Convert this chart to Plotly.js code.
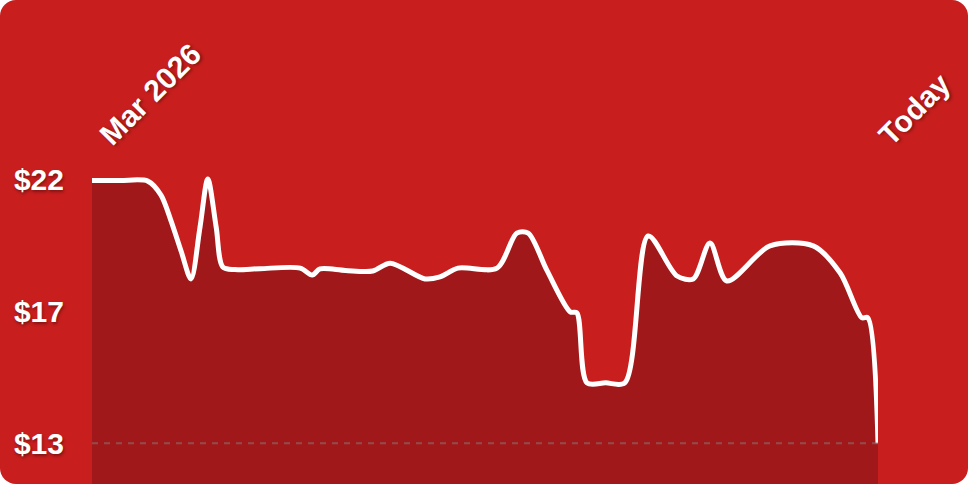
<!DOCTYPE html>
<html>
<head>
<meta charset="utf-8">
<script src="https://cdn.plot.ly/plotly-3.0.1.min.js"></script>
<style>
  html, body { margin: 0; padding: 0; background: #ffffff; }
  #card { width: 968px; height: 484px; border-radius: 16px; overflow: hidden; background: #C81E1E; position: relative; }
  #chart { width: 968px; height: 484px; }
</style>
</head>
<body>
<div id="card"><div id="chart"></div></div>
<script>
// Days since start of period (Mar 2026 -> Today)
const days = [0, 4.7, 9.3, 11.5, 13.2, 14.9, 16.5, 18, 19.3, 20.7, 21.8, 23.8, 28, 34.7, 36.7, 38, 42.2, 46.8, 49.7, 55.5, 58, 61, 67.5, 70.8, 72.7, 75.8, 79.7, 80.8, 82.5, 85.6, 88.8, 92.7, 97.5, 100.2, 103, 105.8, 113, 120.2, 124.7, 128.3, 129.3, 131];
const price = [22.0, 22.0, 21.98, 21.5, 20.6, 19.55, 18.63, 20.4, 22.05, 20.4, 19.04, 18.95, 18.98, 19.0, 18.76, 18.97, 18.92, 18.9, 19.17, 18.63, 18.7, 19.0, 19.0, 20.2, 20.2, 18.93, 17.5, 17.47, 15.07, 15.07, 15.07, 20.1, 18.73, 18.63, 19.86, 18.56, 19.76, 19.76, 18.83, 17.3, 17.3, 13.0];
const xLabels = ["Mar 2026", "Today"];

const pMin = Math.min(...price), pMax = Math.max(...price);
const pMid = (pMin + pMax) / 2;
const yTickVals = [pMin, pMid, pMax];
const yTickText = yTickVals.map(v => "$" + Math.floor(v + 0.05));

const font = { family: "Liberation Sans, Arial, sans-serif", size: 30, color: "#ffffff", weight: 700, shadow: "1px 2px 3px rgba(0,0,0,0.35)" };

const trace = {
  x: days, y: price, type: "scatter", mode: "lines",
  line: { color: "#ffffff", width: 5, shape: "spline", smoothing: 0.85 },
  fill: "tozeroy", fillcolor: "#A0181A", hoverinfo: "skip"
};

const layout = {
  width: 968, height: 484,
  margin: { l: 92, r: 90, t: 150, b: 0 },
  paper_bgcolor: "rgba(0,0,0,0)", plot_bgcolor: "rgba(0,0,0,0)",
  showlegend: false,
  xaxis: { range: [days[0], days[days.length - 1]], showgrid: false, zeroline: false, showticklabels: false, ticks: "", showline: false, fixedrange: true },
  yaxis: { range: [11.606, 23.045], showgrid: false, zeroline: false, showline: false,
    tickvals: yTickVals, ticktext: yTickText, ticks: "", ticklabelstandoff: 27, tickfont: font, fixedrange: true },
  shapes: [{ type: "line", xref: "x", yref: "y", x0: days[0], x1: days[days.length - 1], y0: pMin, y1: pMin,
    line: { color: "rgba(130,130,130,0.5)", width: 2, dash: "6px,6px" }, layer: "above" }],
  annotations: [
    { text: xLabels[0], x: days[0], xref: "x", y: 1, yref: "paper", xanchor: "left", yanchor: "bottom", textangle: -45, showarrow: false, font: font, xshift: -2, yshift: -4 },
    { text: xLabels[1], x: days[days.length - 1], xref: "x", y: 1, yref: "paper", xanchor: "left", yanchor: "bottom", textangle: -45, showarrow: false, font: font, xshift: -9, yshift: -4 }
  ]
};

Plotly.newPlot("chart", [trace], layout, { staticPlot: true, displayModeBar: false });
</script>
</body>
</html>
